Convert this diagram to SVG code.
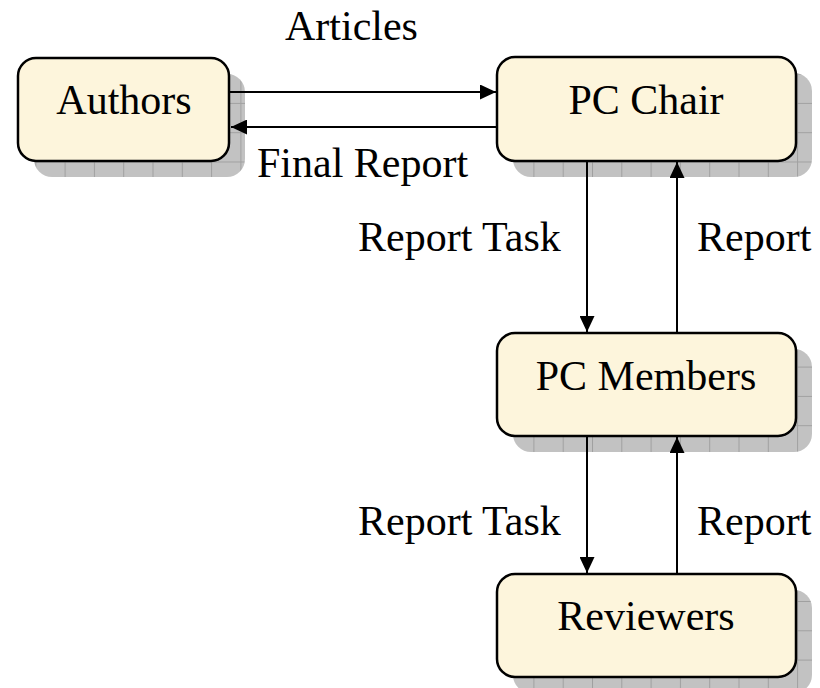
<svg xmlns="http://www.w3.org/2000/svg" width="820" height="688" viewBox="0 0 820 688">
  <style>
    .box { fill: #fdf5dc; stroke: #000; stroke-width: 2.5; }
    .shadow { fill: url(#shadowGrid); }
    .lbl { font-family: "Liberation Serif", "Times New Roman", serif; font-size: 42px; fill: #000; }
    .mid { text-anchor: middle; }
    .edge { fill: none; stroke: #000; stroke-width: 2; }
  </style>
  <defs>
    <pattern id="shadowGrid" patternUnits="userSpaceOnUse" x="6" y="15" width="29.3" height="29.3">
      <rect width="29.3" height="29.3" fill="#c2c2c2"/>
      <path d="M0 0.5H29.3M0.5 0V29.3" stroke="#a0a0a0" stroke-width="1"/>
    </pattern>
    <marker id="arrow" viewBox="0 0 16 15" refX="16" refY="7.5" markerWidth="16" markerHeight="15" markerUnits="userSpaceOnUse" orient="auto">
      <path d="M0 0L16 7.5L0 15Z" fill="#000"/>
    </marker>
  </defs>

  <!-- nodes -->
  <g id="authors">
    <rect class="shadow" x="34" y="74" width="211" height="103" rx="18"/>
    <rect class="box" x="18" y="58" width="211" height="103" rx="18"/>
    <text class="lbl mid" x="124" y="114">Authors</text>
  </g>
  <g id="pc-chair">
    <rect class="shadow" x="513" y="73" width="299" height="104" rx="18"/>
    <rect class="box" x="497" y="57" width="299" height="104" rx="18"/>
    <text class="lbl mid" x="646" y="114">PC Chair</text>
  </g>
  <g id="pc-members">
    <rect class="shadow" x="513" y="349" width="299" height="103" rx="18"/>
    <rect class="box" x="497" y="333" width="299" height="103" rx="18"/>
    <text class="lbl mid" x="646" y="390">PC Members</text>
  </g>
  <g id="reviewers">
    <rect class="shadow" x="513" y="590" width="299" height="103" rx="18"/>
    <rect class="box" x="497" y="574" width="299" height="103" rx="18"/>
    <text class="lbl mid" x="646" y="630">Reviewers</text>
  </g>

  <!-- connectors -->
  <g id="connectors">
    <line class="edge" x1="230" y1="92" x2="496" y2="92" marker-end="url(#arrow)"/>
    <line class="edge" x1="497" y1="127" x2="231" y2="127" marker-end="url(#arrow)"/>
    <line class="edge" x1="587" y1="162" x2="587" y2="332" marker-end="url(#arrow)"/>
    <line class="edge" x1="677" y1="333" x2="677" y2="162" marker-end="url(#arrow)"/>
    <line class="edge" x1="587" y1="437" x2="587" y2="573" marker-end="url(#arrow)"/>
    <line class="edge" x1="677" y1="574" x2="677" y2="437" marker-end="url(#arrow)"/>
  </g>

  <!-- connector labels -->
  <g id="labels">
    <text class="lbl" x="285" y="40">Articles</text>
    <text class="lbl" x="257" y="177">Final Report</text>
    <text class="lbl" x="358" y="251">Report Task</text>
    <text class="lbl" x="697" y="251">Report</text>
    <text class="lbl" x="358" y="535">Report Task</text>
    <text class="lbl" x="697" y="535">Report</text>
  </g>
</svg>
